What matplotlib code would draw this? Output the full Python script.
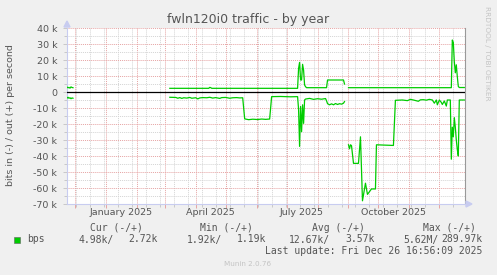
import matplotlib
matplotlib.use("Agg")
import matplotlib.pyplot as plt
import matplotlib.dates as mdates
from matplotlib.patches import Rectangle, Polygon
import numpy as np
import pandas as pd

# traffic, in thousands of bits per second (out is +, in is -)
out_dates = ["2024-11-23", "2024-11-24", "2024-11-25", "2024-11-26", "2024-11-27", "2024-11-28",
             "2024-11-29", "2024-11-30",
             "2025-03-06", "2025-04-14", "2025-04-15", "2025-04-16", "2025-04-17", "2025-07-12",
             "2025-07-13", "2025-07-14", "2025-07-15", "2025-07-16", "2025-07-17", "2025-07-18",
             "2025-07-19", "2025-07-20", "2025-07-21", "2025-08-10", "2025-08-11", "2025-08-27",
             "2025-08-28", "2025-08-29",
             "2025-09-01", "2025-12-13", "2025-12-14", "2025-12-15", "2025-12-16", "2025-12-17",
             "2025-12-18", "2025-12-19", "2025-12-20", "2025-12-21", "2025-12-26"]
out_kbit = [3.1, 2.6, 2.9, 2.4, 3.2, 2.8,
            2.7, np.nan,
            2.3, 2.3, 2.9, 2.7, 2.3, 2.3,
            14.8, 18.5, 7.5, 7.5, 17.3, 13.7,
            4.4, 3.3, 2.7, 2.7, 7.5, 7.5,
            5.0, np.nan,
            2.7, 2.7, 32.5, 31.0, 19.0, 12.0,
            17.0, 9.6, 3.5, 2.8, 2.8]

in_dates = ["2024-11-23", "2024-11-24", "2024-11-25", "2024-11-26", "2024-11-27", "2024-11-28",
            "2024-11-29", "2024-11-30",
            "2025-03-06", "2025-03-12", "2025-03-14", "2025-03-16", "2025-03-18", "2025-03-20",
            "2025-03-23", "2025-03-26", "2025-03-28", "2025-04-01", "2025-04-03", "2025-04-05",
            "2025-04-08", "2025-04-12", "2025-04-15", "2025-04-18", "2025-04-21", "2025-04-25",
            "2025-04-27", "2025-05-01", "2025-05-05", "2025-05-08", "2025-05-12", "2025-05-15",
            "2025-05-18", "2025-05-20", "2025-05-24", "2025-05-28", "2025-06-02", "2025-06-06",
            "2025-06-10", "2025-06-14", "2025-06-16", "2025-06-25", "2025-07-05", "2025-07-12",
            "2025-07-13", "2025-07-14", "2025-07-15", "2025-07-16", "2025-07-17", "2025-07-18",
            "2025-07-19", "2025-07-20", "2025-07-24", "2025-07-28", "2025-08-01", "2025-08-05",
            "2025-08-09", "2025-08-10", "2025-08-11", "2025-08-13", "2025-08-15", "2025-08-17",
            "2025-08-19", "2025-08-21", "2025-08-23", "2025-08-25", "2025-08-27", "2025-08-28",
            "2025-08-29",
            "2025-09-01", "2025-09-02", "2025-09-03", "2025-09-04", "2025-09-05", "2025-09-06",
            "2025-09-11", "2025-09-13", "2025-09-15", "2025-09-18", "2025-09-20", "2025-09-24",
            "2025-09-28", "2025-09-29", "2025-10-16", "2025-10-18", "2025-10-25", "2025-10-30",
            "2025-11-02", "2025-11-05", "2025-11-10", "2025-11-12", "2025-11-15", "2025-11-18",
            "2025-11-21", "2025-11-24", "2025-11-26", "2025-11-28", "2025-11-29", "2025-12-01",
            "2025-12-03", "2025-12-04", "2025-12-06", "2025-12-08", "2025-12-09", "2025-12-11",
            "2025-12-12", "2025-12-13", "2025-12-14", "2025-12-15", "2025-12-16", "2025-12-17",
            "2025-12-18", "2025-12-19", "2025-12-20", "2025-12-21", "2025-12-26"]
in_kbit = [-3.8, -3.3, -3.9, -3.6, -4.2, -3.7,
           -3.9, np.nan,
           -3.3, -3.4, -3.9, -3.5, -4.0, -3.6,
           -3.8, -3.4, -3.9, -3.6, -4.3, -3.7,
           -3.5, -3.6, -3.3, -3.8, -3.5, -4.0,
           -3.5, -3.4, -3.9, -3.6, -3.5, -3.7,
           -3.6, -16.8, -17.3, -17.0, -17.2, -16.9,
           -17.1, -16.9, -2.9, -2.8, -3.0, -2.9,
           -11.0, -34.0, -9.0, -24.8, -8.0, -19.6,
           -5.0, -4.4, -4.0, -4.6, -4.2, -4.5,
           -4.1, -5.5, -7.3, -8.0, -7.4, -8.0,
           -7.2, -7.8, -7.3, -7.6, -7.0, -6.0,
           np.nan,
           -33.0, -35.5, -33.0, -33.5, -39.0, -44.6,
           -44.6, -28.0, -68.0, -57.0, -64.0, -60.6,
           -60.6, -33.0, -33.4, -5.2, -5.0, -5.4,
           -4.6, -5.0, -5.8, -4.9, -4.8, -5.1,
           -4.6, -5.0, -7.0, -5.0, -8.0, -5.0,
           -6.5, -7.8, -5.6, -8.8, -5.0, -5.0,
           -5.0, -42.0, -22.0, -28.0, -16.0, -22.0,
           -30.0, -36.0, -40.0, -5.0, -5.0]

y_ticks = [40000, 30000, 20000, 10000, 0, -10000, -20000, -30000, -40000, -50000, -60000, -70000]
y_labels = ["40 k", "30 k", "20 k", "10 k", "0", "-10 k", "-20 k", "-30 k", "-40 k", "-50 k", "-60 k", "-70 k"]
month_labels = ["January 2025", "April 2025", "July 2025", "October 2025"]
month_label_dates = ["2025-01-16", "2025-04-16", "2025-07-16", "2025-10-16"]

legend_heads = ["Cur (-/+)", "Min (-/+)", "Avg (-/+)", "Max (-/+)"]
legend_in = ["4.98k/", "1.92k/", "12.67k/", "5.62M/"]
legend_out = ["2.72k", "1.19k", "3.57k", "289.97k"]

W, H = 497, 275
BG = "#f0f0f0"
GREEN = "#00cc00"
TXT = "#555555"


def fx(x):
    return x / W


def fy(y):
    return 1 - y / H


fig = plt.figure(figsize=(W / 100, H / 100), dpi=100, facecolor=BG)
ax = fig.add_axes([fx(67), fy(204), fx(398), 176 / H])
ax.set_facecolor("white")

# data
ax.plot(pd.to_datetime(out_dates), np.array(out_kbit) * 1000, color=GREEN, lw=0.9, zorder=4)
ax.plot(pd.to_datetime(in_dates), np.array(in_kbit) * 1000, color=GREEN, lw=0.9, zorder=4)
ax.axhline(0, color="black", lw=0.9, zorder=3)

ax.set_xlim(pd.Timestamp("2024-11-23"), pd.Timestamp("2025-12-26 17:00"))
ax.set_ylim(-70000, 40000)

# grid
ax.xaxis.set_major_locator(mdates.MonthLocator())
minor_x = mdates.date2num(pd.date_range("2024-11-18", "2025-12-31", freq="14D"))
ax.xaxis.set_minor_locator(matplotlib.ticker.FixedLocator(minor_x))
ax.set_yticks(y_ticks)
ax.set_yticks(np.arange(-65000, 40000, 10000), minor=True)
ax.set_yticklabels(y_labels)
ax.set_xticklabels([])

ax.grid(which="minor", color="#d4d4d4", linestyle=(0, (1, 1)), lw=0.7, zorder=1)
ax.grid(which="major", color="#e6a4a4", linestyle=(0, (1, 1)), lw=0.7, zorder=2)
ax.set_axisbelow(True)

ax.tick_params(axis="x", which="major", length=3, width=0.7, color="#e6a4a4")
ax.tick_params(axis="x", which="minor", length=2, width=0.7, color="#c8c8c8")
ax.tick_params(axis="y", which="major", length=3, width=0.7, color="#c8c8c8",
               labelsize=6.8, labelcolor=TXT, pad=4)
ax.tick_params(axis="y", which="minor", length=2, width=0.7, color="#c8c8c8")

for s in ["top"]:
    ax.spines[s].set_visible(False)
ax.spines["right"].set_color("#999999")
ax.spines["right"].set_linewidth(0.8)
ax.spines["left"].set_color("#c8ccf0")
ax.spines["bottom"].set_color("#c8ccf0")
ax.spines["left"].set_linewidth(0.8)
ax.spines["bottom"].set_linewidth(0.8)

# axis arrows
fig.patches.append(Polygon([[fx(64), fy(27)], [fx(70), fy(27)], [fx(67), fy(21)]],
                           closed=True, transform=fig.transFigure, color="#c8ccf0"))
fig.patches.append(Polygon([[fx(466), fy(201)], [fx(466), fy(207)], [fx(472), fy(204)]],
                           closed=True, transform=fig.transFigure, color="#c8ccf0"))

for lab, d in zip(month_labels, month_label_dates):
    ax.text(mdates.date2num(pd.Timestamp(d)), fy(212.5), lab, transform=ax.get_xaxis_transform(),
            ha="center", va="center", fontsize=6.8, color=TXT)
# fix: x label y in figure coords
for t in ax.texts:
    t.set_transform(matplotlib.transforms.blended_transform_factory(ax.transData, fig.transFigure))

fig.text(0.5, fy(19), "fwln120i0 traffic - by year", ha="center", va="center", fontsize=9, color=TXT)
fig.text(fx(10.5), fy(115), "bits in (-) / out (+) per second", rotation=90,
         ha="center", va="center", fontsize=6.8, color=TXT)
fig.text(fx(487.5), fy(53), "RRDTOOL / TOBI OETIKER", rotation=270,
         ha="center", va="center", fontsize=5.3, color="#c4c4c4")

# legend
mono = "DejaVu Sans Mono"
head_x = [90, 200, 311.7, 422.7]
for h, x in zip(legend_heads, head_x):
    fig.text(fx(x), fy(227.7), h, ha="left", va="center", fontsize=7, family=mono, color=TXT)
fig.patches.append(Rectangle((fx(14), fy(242.5)), fx(5.5), 6 / H, transform=fig.transFigure,
                             facecolor=GREEN, edgecolor="#606060", lw=0.4))
fig.text(fx(26.7), fy(239.5), "bps", ha="left", va="center", fontsize=7, family=mono, color=TXT)
in_x = [78.3, 186.7, 289.3, 403.3]
out_right = [157.7, 266.7, 375, 482.7]
for a, b, x1, x2 in zip(legend_in, legend_out, in_x, out_right):
    fig.text(fx(x1), fy(239.5), a, ha="left", va="center", fontsize=7, family=mono, color=TXT)
    fig.text(fx(x2), fy(239.5), b, ha="right", va="center", fontsize=7, family=mono, color=TXT)
fig.text(fx(482.7), fy(251), "Last update: Fri Dec 26 16:56:09 2025", ha="right", va="center",
         fontsize=7, family=mono, color=TXT)
fig.text(fx(248), fy(264.5), "Munin 2.0.76", ha="center", va="center", fontsize=5.2, color="#c4c4c4")

fig.savefig("out.png", dpi=100, facecolor=BG)
